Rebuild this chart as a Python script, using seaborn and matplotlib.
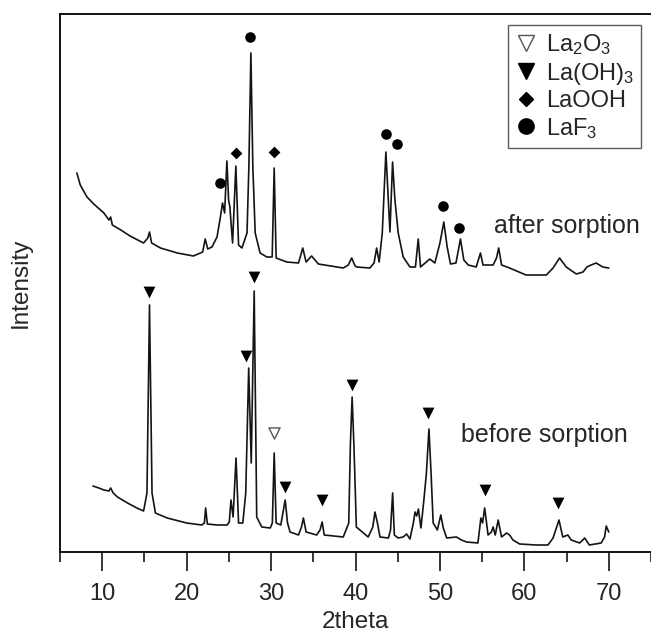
import matplotlib
matplotlib.use('Agg')
import matplotlib.pyplot as plt
from matplotlib.lines import Line2D
from matplotlib.ticker import MultipleLocator
import seaborn as sns

# XRD traces (intensity in arbitrary units, stacked)
before_x = [8.9, 9.6, 10.2, 10.8, 11.0, 11.3, 11.8, 13.0, 14.1, 14.9, 15.3, 15.6, 15.9, 16.3, 17.7,
            20.0, 21.8, 22.1, 22.25, 22.45, 23.6, 24.8, 25.05, 25.25, 25.5, 25.85, 26.15, 26.65,
            27.0, 27.35, 27.65, 28.0, 28.3, 28.9, 29.9, 30.15, 30.37, 30.6, 31.15, 31.4, 31.67,
            31.95, 32.25, 33.25, 33.6, 33.83, 34.15, 35.4, 35.8, 36.05, 36.3, 38.55, 39.2, 39.4,
            39.6, 39.82, 40.1, 41.5, 42.05, 42.3, 42.6, 42.9, 43.9, 44.15, 44.4, 44.6, 45.05,
            45.65, 46.05, 46.45, 46.85, 47.05, 47.25, 47.45, 47.75, 48.1, 48.4, 48.7, 48.95,
            49.2, 49.7, 50.1, 50.4, 50.8, 51.95, 52.55, 53.15, 54.5, 54.85, 55.05, 55.3, 55.7,
            56.1, 56.3, 56.55, 56.9, 57.3, 57.9, 58.25, 58.65, 59.45, 61.4, 62.8, 63.4, 64.1,
            64.55, 65.15, 65.55, 66.55, 67.15, 67.7, 69.1, 69.5, 69.7, 70.0]
before_y = [66, 64, 62, 61, 64, 59, 55, 49, 44, 41, 59, 247, 59, 39, 34,
            29, 27, 29, 44, 28, 27, 27, 30, 52, 35, 94, 29, 29,
            59, 184, 89, 261, 35, 25, 24, 29, 99, 29, 27, 39, 52,
            29, 20, 17, 25, 34, 20, 17, 22, 30, 17, 15, 29, 109,
            155, 105, 25, 15, 25, 40, 29, 15, 14, 22, 59, 17, 14,
            15, 18, 13, 29, 40, 36, 43, 24, 52, 79, 123, 79,
            29, 22, 37, 24, 14, 15, 12, 10, 9, 34, 29, 44, 17,
            20, 25, 17, 32, 15, 19, 17, 12, 8, 7, 7, 14, 32,
            15, 17, 12, 9, 14, 7, 9, 15, 26, 20]

after_x = [7.0, 7.4, 8.2, 9.0, 10.2, 10.8, 11.0, 11.2, 12.2, 13.3, 14.9, 15.4, 15.6, 15.85, 16.9,
           18.9, 20.8, 21.9, 22.2, 22.5, 23.0, 23.6, 24.0, 24.25, 24.5, 24.77, 24.97, 25.12,
           25.44, 25.83, 26.15, 26.55, 27.15, 27.37, 27.61, 27.84, 28.12, 28.7, 29.5, 30.13,
           30.37, 30.6, 31.85, 33.25, 33.75, 34.15, 34.8, 35.6, 38.55, 39.15, 39.55, 39.95,
           40.15, 41.7, 42.2, 42.5, 42.8, 43.17, 43.6, 44.08, 44.39, 44.67, 45.06, 45.65,
           46.45, 47.1, 47.43, 47.7, 48.8, 49.4, 50.0, 50.46, 50.86, 51.25, 51.9, 52.43,
           52.83, 53.35, 54.3, 54.8, 55.1, 56.3, 56.7, 56.96, 57.3, 58.25, 60.2, 62.6, 63.4,
           64.17, 64.96, 66.15, 66.95, 67.4, 67.9, 68.5, 69.3, 70.0]
after_y = [379, 367, 355, 348, 339, 332, 335, 327, 322, 316, 309, 314, 320, 309, 304,
           299, 296, 300, 313, 303, 305, 315, 335, 349, 339, 391, 352, 345,
           309, 386, 307, 304, 319, 385, 499, 385, 319, 299, 295, 295,
           384, 294, 290, 289, 304, 290, 296, 288, 284, 287, 294, 286,
           285, 284, 289, 304, 290, 319, 400, 320, 390, 352, 319, 295,
           285, 285, 313, 285, 293, 289, 309, 330, 305, 288, 289, 313,
           292, 287, 285, 299, 287, 287, 294, 304, 287, 284, 277, 277, 284,
           294, 285, 278, 280, 285, 287, 289, 285, 284]

# phase markers above the peaks
laoh3_x = [15.6, 27.05, 28.0, 31.67, 36.04, 39.57, 48.6, 55.3, 64.0]
laoh3_y = [260, 196, 275, 65, 52, 167, 139, 62, 49]
la2o3_x = [30.37]
la2o3_y = [119]
laooh_x = [25.87, 30.33]
laooh_y = [399, 400]
laf3_x = [23.9, 27.45, 43.57, 44.87, 50.38, 52.27]
laf3_y = [369, 515, 418, 408, 346, 324]

sns.set_style('ticks')
plt.rcParams['font.family'] = ['Liberation Sans', 'DejaVu Sans']
plt.rcParams['mathtext.default'] = 'regular'

fig = plt.figure(figsize=(6.51, 6.35), dpi=100)
ax = fig.add_axes([60 / 651, 83 / 635, 591 / 651, 538 / 635])

line_col = '#141414'
sns.lineplot(x=before_x, y=before_y, ax=ax, color=line_col, lw=1.2, estimator=None, sort=False)
sns.lineplot(x=after_x, y=after_y, ax=ax, color=line_col, lw=1.2, estimator=None, sort=False)

sns.scatterplot(x=laoh3_x, y=laoh3_y, ax=ax, marker='v', s=72, color='black', linewidth=0, zorder=3)
sns.scatterplot(x=la2o3_x, y=la2o3_y, ax=ax, marker='v', s=64, facecolor='white',
                edgecolor='#555555', linewidth=1.0, zorder=3)
sns.scatterplot(x=laooh_x, y=laooh_y, ax=ax, marker='D', s=36, color='black', linewidth=0, zorder=3)
sns.scatterplot(x=laf3_x, y=laf3_y, ax=ax, marker='o', s=58, color='black', linewidth=0, zorder=3)

ax.text(56.4, 326, 'after sorption', fontsize=18, va='center', ha='left')
ax.text(52.55, 117, 'before sorption', fontsize=18, va='center', ha='left')

ax.set_xlim(5, 75)
ax.set_ylim(0, 538)
ax.set_yticks([])
ax.xaxis.set_major_locator(MultipleLocator(10))
ax.xaxis.set_minor_locator(MultipleLocator(5))
ax.tick_params(axis='x', which='major', direction='out', length=13.5, width=1.1,
               labelsize=17, pad=9, color='black')
ax.tick_params(axis='x', which='minor', direction='out', length=7, width=1.1, color='black')
for s in ['top', 'left', 'bottom']:
    ax.spines[s].set_linewidth(1.3)
    ax.spines[s].set_color('black')
ax.spines['right'].set_visible(False)

ax.set_xlabel('2theta', fontsize=17.5, labelpad=4)
ax.set_ylabel('Intensity', fontsize=17.5, labelpad=20)

handles = [
    Line2D([], [], ls='none', marker='v', markersize=11, markerfacecolor='white',
           markeredgecolor='#555555', markeredgewidth=1.0),
    Line2D([], [], ls='none', marker='v', markersize=11, color='black'),
    Line2D([], [], ls='none', marker='D', markersize=7.5, color='black'),
    Line2D([], [], ls='none', marker='o', markersize=11, color='black'),
]
labels = ['La$_2$O$_3$', 'La(OH)$_3$', 'LaOOH', 'LaF$_3$']
leg = ax.legend(handles, labels, loc='upper right', bbox_to_anchor=(641 / 651, 1 - 25 / 635),
                bbox_transform=fig.transFigure, fontsize=17, frameon=True, fancybox=False,
                handlelength=0.9, handletextpad=0.4, borderpad=0.3, labelspacing=0.15,
                borderaxespad=0)
leg.get_frame().set_edgecolor('#333333')
leg.get_frame().set_linewidth(1.0)

fig.savefig('out.png', dpi=100)
